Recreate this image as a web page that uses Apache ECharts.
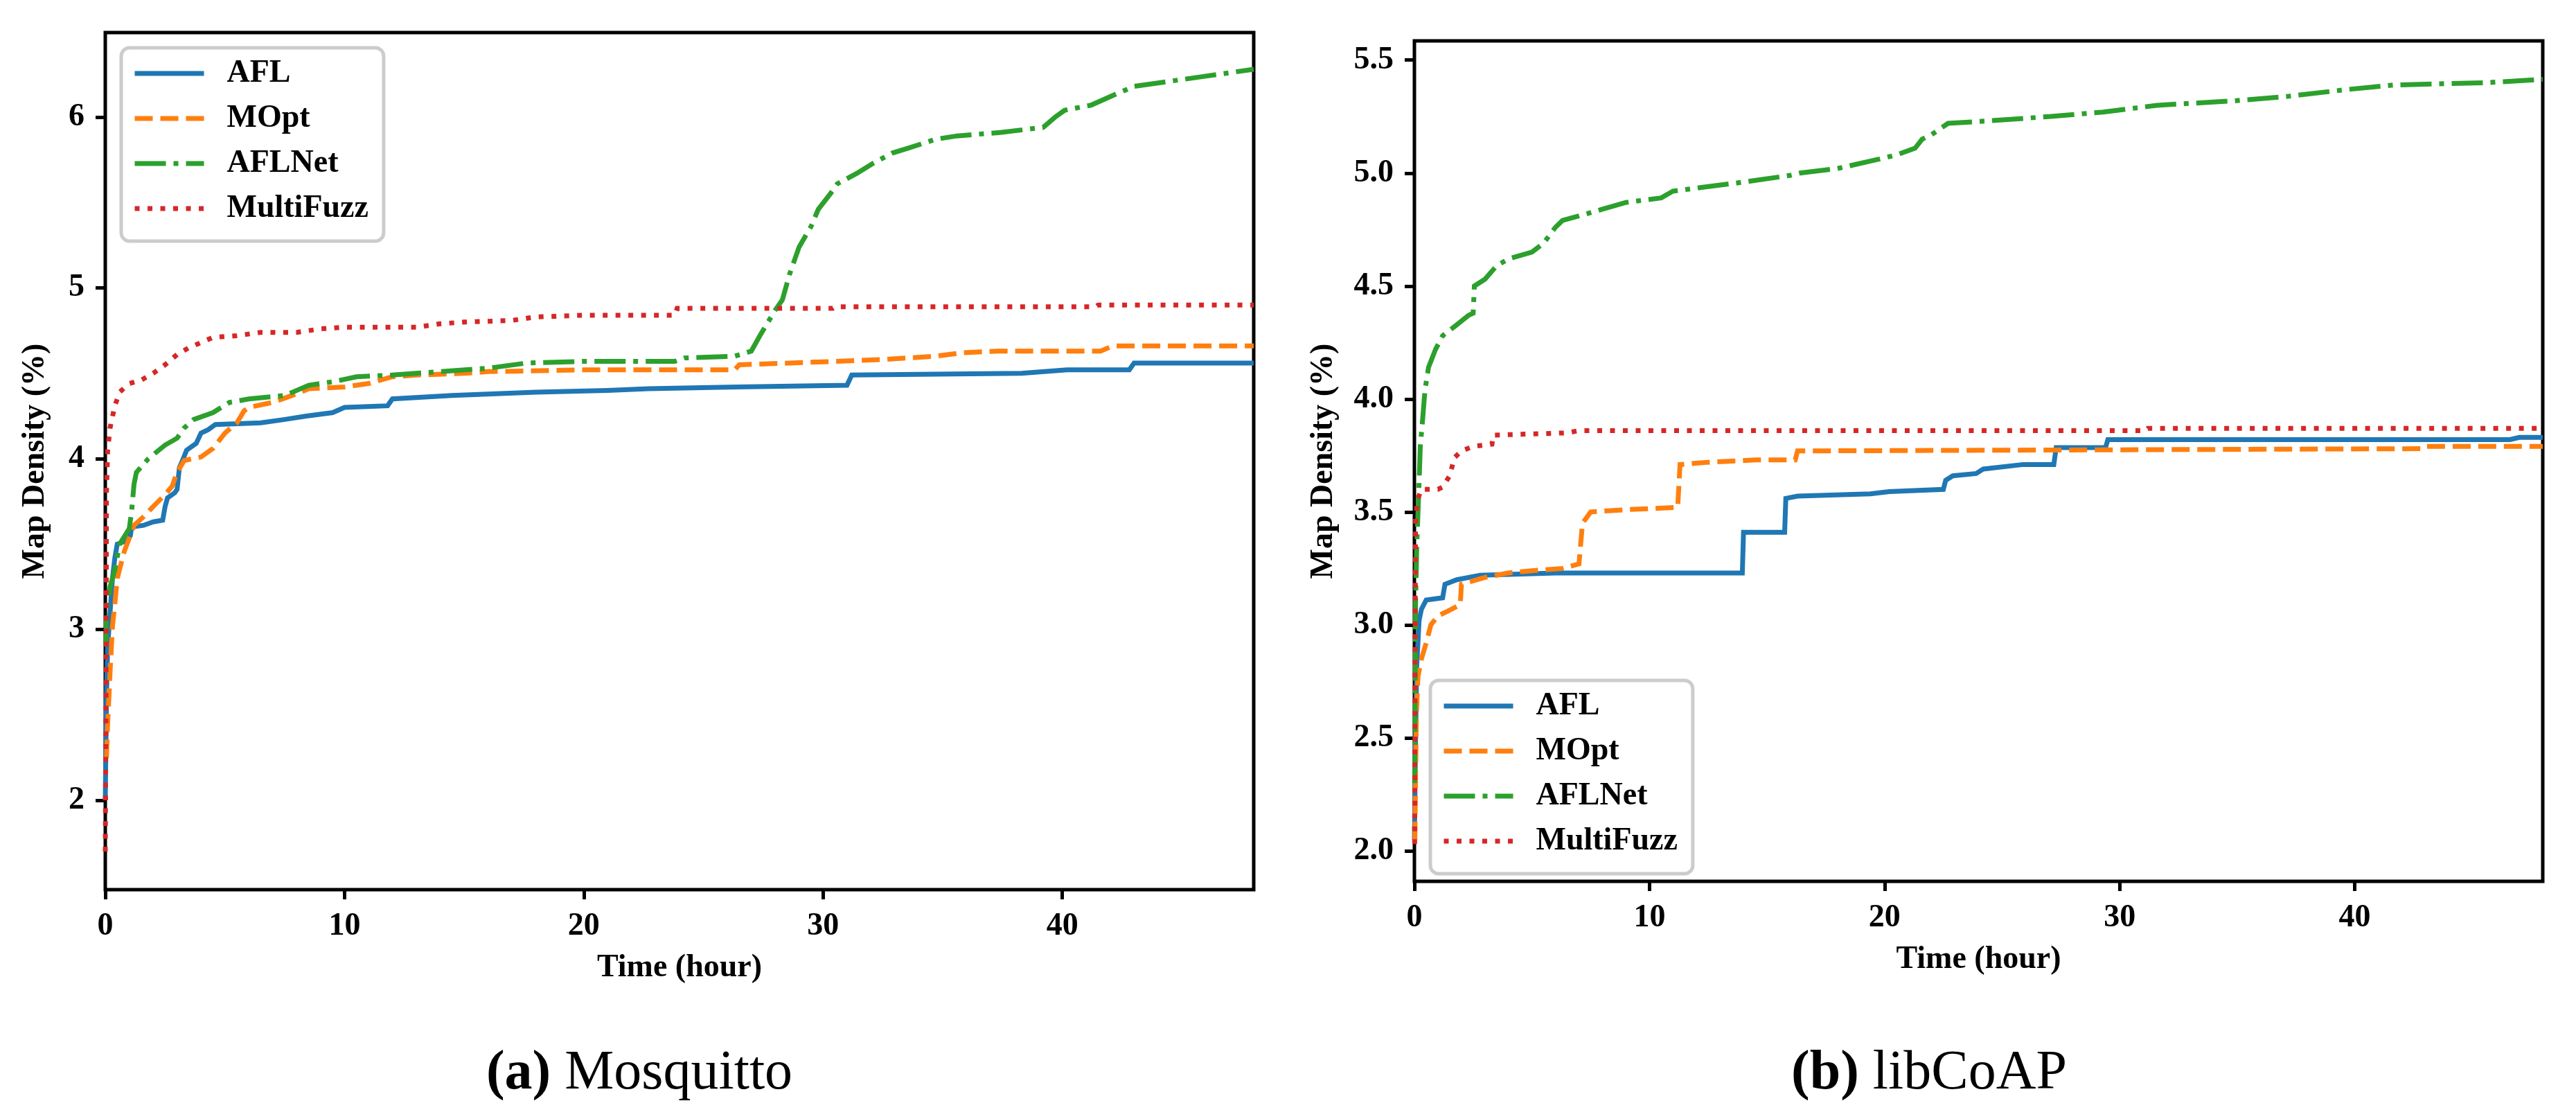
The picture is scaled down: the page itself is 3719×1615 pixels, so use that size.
<!DOCTYPE html>
<html><head><meta charset="utf-8">
<script src="https://cdn.jsdelivr.net/npm/echarts@6/dist/echarts.min.js"></script>
<style>html,body{margin:0;padding:0;background:#fff;}#c{width:3719px;height:1615px;}</style>
</head><body><div id="c"></div>
<script>
// ---- data: [hour, map density %] ----
const seriesNames = ['AFL', 'MOpt', 'AFLNet', 'MultiFuzz'];
const mosqYTicks = [2, 3, 4, 5, 6];
const coapYTicks = [2.0, 2.5, 3.0, 3.5, 4.0, 4.5, 5.0, 5.5];
const xTicks = [0, 10, 20, 30, 40];

const mosqAFL = [[0,2.0],[0.05,2.6],[0.1,2.9],[0.2,3.1],[0.3,3.3],[0.4,3.42],[0.5,3.5],[0.9,3.52],[1.05,3.55],[1.1,3.6],[1.6,3.61],[2.0,3.63],[2.4,3.64],[2.5,3.72],[2.6,3.77],[2.9,3.8],[3.0,3.82],[3.1,3.95],[3.2,3.98],[3.4,4.05],[3.8,4.09],[4.0,4.15],[4.3,4.17],[4.6,4.2],[6.5,4.21],[7.5,4.23],[8.4,4.25],[9.5,4.27],[10,4.3],[11.8,4.31],[12,4.35],[14.5,4.37],[18,4.39],[21,4.4],[22.7,4.41],[26.4,4.42],[31,4.43],[31.2,4.49],[38.3,4.5],[40.2,4.52],[42.8,4.52],[43,4.56],[48,4.56]];
const mosqMOpt = [[0.05,2.25],[0.1,2.45],[0.15,2.6],[0.2,2.75],[0.3,3.02],[0.4,3.15],[0.5,3.3],[0.8,3.46],[1.2,3.61],[1.6,3.66],[2.0,3.72],[2.5,3.79],[2.8,3.84],[3.0,3.92],[3.3,3.99],[4.0,4.01],[4.5,4.06],[5.0,4.15],[5.5,4.21],[5.8,4.28],[6,4.3],[7,4.33],[8,4.38],[8.5,4.41],[10,4.42],[11,4.44],[12,4.48],[13,4.49],[15,4.5],[16,4.51],[20,4.52],[26.3,4.52],[26.5,4.55],[28.6,4.56],[32.4,4.58],[34.7,4.6],[35.8,4.62],[37.3,4.63],[41.6,4.63],[42.1,4.66],[48,4.66]];
const mosqAFLNet = [[0.02,2.9],[0.05,3.1],[0.2,3.25],[0.4,3.35],[0.6,3.5],[1.0,3.59],[1.1,3.69],[1.2,3.85],[1.3,3.92],[1.8,4.0],[2.5,4.08],[3.0,4.12],[3.3,4.18],[3.7,4.23],[4.5,4.27],[5.2,4.33],[6,4.35],[7.5,4.37],[8.5,4.43],[9.5,4.45],[10.5,4.48],[12,4.49],[14,4.51],[16,4.53],[17.6,4.56],[20,4.57],[23.8,4.57],[24.2,4.59],[26.3,4.6],[27.0,4.63],[27.4,4.73],[28.0,4.87],[28.3,4.93],[28.6,5.08],[29.0,5.24],[29.5,5.36],[29.8,5.46],[30.3,5.55],[30.6,5.61],[31.4,5.67],[32.1,5.73],[32.9,5.79],[33.6,5.82],[34.7,5.87],[35.6,5.89],[37.4,5.91],[39.2,5.94],[39.7,6.0],[40.1,6.04],[41.2,6.07],[42,6.12],[43,6.18],[44,6.2],[46,6.24],[48,6.28]];
const mosqMultiFuzz = [[0,1.7],[0.03,2.6],[0.05,3.8],[0.1,4.05],[0.2,4.18],[0.4,4.31],[0.6,4.39],[1.0,4.44],[1.5,4.46],[2.0,4.5],[2.5,4.55],[3,4.61],[3.5,4.65],[4,4.68],[4.5,4.71],[5.5,4.72],[6.5,4.74],[8,4.74],[9,4.76],[10,4.77],[13,4.77],[14,4.79],[15,4.8],[17,4.81],[18,4.83],[20,4.84],[23.8,4.84],[23.9,4.88],[30.4,4.88],[30.5,4.89],[41.4,4.89],[41.5,4.9],[48,4.9]];

const coapAFL = [[0,2.05],[0.05,2.5],[0.1,2.82],[0.2,3.02],[0.3,3.07],[0.5,3.11],[1.2,3.12],[1.3,3.18],[1.8,3.2],[2.8,3.22],[6,3.23],[13.95,3.23],[14.0,3.41],[15.75,3.41],[15.8,3.56],[16.3,3.57],[19.4,3.58],[20.2,3.59],[22.5,3.6],[22.6,3.64],[22.9,3.66],[23.9,3.67],[24.2,3.69],[25.9,3.71],[27.2,3.71],[27.3,3.785],[29.4,3.785],[29.5,3.82],[46.6,3.82],[47,3.83],[48,3.83]];
const coapMOpt = [[0.02,2.05],[0.08,2.59],[0.15,2.77],[0.3,2.85],[0.5,2.92],[0.7,3.0],[1.0,3.04],[1.4,3.06],[1.95,3.09],[2.0,3.18],[3,3.21],[4,3.23],[5,3.24],[6.3,3.25],[7.0,3.27],[7.15,3.45],[7.5,3.5],[9,3.51],[11.2,3.52],[11.3,3.71],[12.5,3.72],[14.5,3.73],[16.2,3.73],[16.3,3.77],[42.8,3.78],[42.9,3.79],[48,3.79]];
const coapAFLNet = [[0.01,2.3],[0.05,3.1],[0.1,3.35],[0.2,3.63],[0.25,3.79],[0.35,3.91],[0.45,4.04],[0.6,4.14],[0.9,4.22],[1.2,4.28],[1.7,4.32],[2.3,4.37],[2.5,4.38],[2.55,4.5],[3,4.53],[3.5,4.59],[4,4.62],[5,4.65],[5.5,4.69],[6,4.76],[6.3,4.79],[7,4.81],[8,4.84],[9,4.87],[10.5,4.89],[11,4.92],[12.5,4.94],[14,4.96],[16,4.99],[16.4,5.0],[18,5.02],[19.7,5.06],[20.5,5.08],[21.3,5.11],[21.6,5.15],[22,5.17],[22.7,5.22],[24.3,5.23],[27,5.25],[29.3,5.27],[31.6,5.3],[34.9,5.32],[37.2,5.34],[39.7,5.37],[41.7,5.39],[45.6,5.4],[48,5.415]];
const coapMultiFuzz = [[0.01,2.03],[0.03,3.0],[0.05,3.48],[0.15,3.56],[0.3,3.6],[1.0,3.6],[1.2,3.61],[1.5,3.66],[1.7,3.74],[2.0,3.77],[2.5,3.79],[3.3,3.8],[3.35,3.84],[6.5,3.85],[7,3.86],[31.1,3.86],[31.2,3.87],[48,3.87]];

// ---- styling ----
const colors = ['#1f77b4', '#ff7f0e', '#2ca02c', '#d62728'];
const dashes = ['solid', [26, 11], [45, 11, 7, 11], [7, 11.5]];
const FONT = 'Liberation Serif';
const LW = 7;

function xAxisCfg(gi) {
  return {
    gridIndex: gi, type: 'value', min: 0, max: 48,
    name: 'Time (hour)', nameLocation: 'middle', nameGap: 90,
    nameTextStyle: { fontFamily: FONT, fontWeight: 'bold', fontSize: 46, color: '#000' },
    axisLine: { show: false },
    axisTick: { show: true, length: 14, inside: false, lineStyle: { color: '#000', width: 5 }, customValues: xTicks },
    axisLabel: { show: true, margin: 30, fontFamily: FONT, fontWeight: 'bold', fontSize: 46, color: '#000', customValues: xTicks },
    splitLine: { show: false }
  };
}
function yAxisCfg(gi, min, max, ticks, fmt, gap) {
  return {
    gridIndex: gi, type: 'value', min: min, max: max,
    name: 'Map Density (%)', nameLocation: 'middle', nameRotate: 90, nameGap: gap,
    nameTextStyle: { fontFamily: FONT, fontWeight: 'bold', fontSize: 46, color: '#000' },
    axisLine: { show: false },
    axisTick: { show: true, length: 14, lineStyle: { color: '#000', width: 5 }, customValues: ticks },
    axisLabel: { show: true, margin: 30, fontFamily: FONT, fontWeight: 'bold', fontSize: 46, color: '#000', customValues: ticks, formatter: fmt },
    splitLine: { show: false }
  };
}
function mkSeries(name, idx, data, gi) {
  return {
    name: name, type: 'line', xAxisIndex: gi, yAxisIndex: gi, data: data,
    showSymbol: false, symbol: 'none', smooth: false, clip: true,
    lineStyle: { color: colors[idx], width: LW, type: dashes[idx], cap: 'butt', join: 'miter' },
    itemStyle: { color: colors[idx] },
    z: 2 + idx
  };
}
function legendCfg(left, top) {
  return {
    orient: 'vertical', left: left, top: top, data: seriesNames,
    itemWidth: 100, itemHeight: 20, itemGap: 19,
    padding: [14, 22, 24, 16],
    backgroundColor: 'rgba(255,255,255,0.8)', borderColor: '#cccccc', borderWidth: 5, borderRadius: 12,
    itemStyle: { opacity: 0, borderWidth: 0 },
    lineStyle: { width: LW, type: 'inherit', cap: 'butt' },
    textStyle: { fontFamily: FONT, fontWeight: 'bold', fontSize: 46, color: '#000', lineHeight: 46, padding: [0, 0, 0, 28] },
    selectedMode: false, z: 10
  };
}

const chart = echarts.init(document.getElementById('c'), null, { renderer: 'canvas' });
chart.setOption({
  animation: false,
  backgroundColor: '#fff',
  grid: [
    { left: 152, top: 47, width: 1658, height: 1237, show: true, borderColor: '#000', borderWidth: 5, backgroundColor: 'transparent', containLabel: false },
    { left: 2042, top: 59, width: 1629, height: 1213, show: true, borderColor: '#000', borderWidth: 5, backgroundColor: 'transparent', containLabel: false }
  ],
  xAxis: [xAxisCfg(0), xAxisCfg(1)],
  yAxis: [
    yAxisCfg(0, 1.477, 6.495, mosqYTicks, v => String(Math.round(v)), 78),
    yAxisCfg(1, 1.865, 5.585, coapYTicks, v => Number(v).toFixed(1), 108)
  ],
  legend: [legendCfg(175, 69), legendCfg(2065, 982)],
  series: [
    mkSeries('AFL', 0, mosqAFL, 0),
    mkSeries('MOpt', 1, mosqMOpt, 0),
    mkSeries('AFLNet', 2, mosqAFLNet, 0),
    mkSeries('MultiFuzz', 3, mosqMultiFuzz, 0),
    mkSeries('AFL', 0, coapAFL, 1),
    mkSeries('MOpt', 1, coapMOpt, 1),
    mkSeries('AFLNet', 2, coapAFLNet, 1),
    mkSeries('MultiFuzz', 3, coapMultiFuzz, 1)
  ],
  graphic: [
    { type: 'text', x: 923, y: 1550, style: {
        text: '{b|(a)} {n|Mosquitto}', align: 'center', verticalAlign: 'middle',
        rich: { b: { fontFamily: FONT, fontWeight: 'bold', fontSize: 80, fill: '#000' }, n: { fontFamily: FONT, fontSize: 80, fill: '#000' } },
        fontFamily: FONT, fontSize: 80, fill: '#000' } },
    { type: 'text', x: 2785, y: 1550, style: {
        text: '{b|(b)} {n|libCoAP}', align: 'center', verticalAlign: 'middle',
        rich: { b: { fontFamily: FONT, fontWeight: 'bold', fontSize: 80, fill: '#000' }, n: { fontFamily: FONT, fontSize: 80, fill: '#000' } },
        fontFamily: FONT, fontSize: 80, fill: '#000' } }
  ]
});
</script></body></html>
